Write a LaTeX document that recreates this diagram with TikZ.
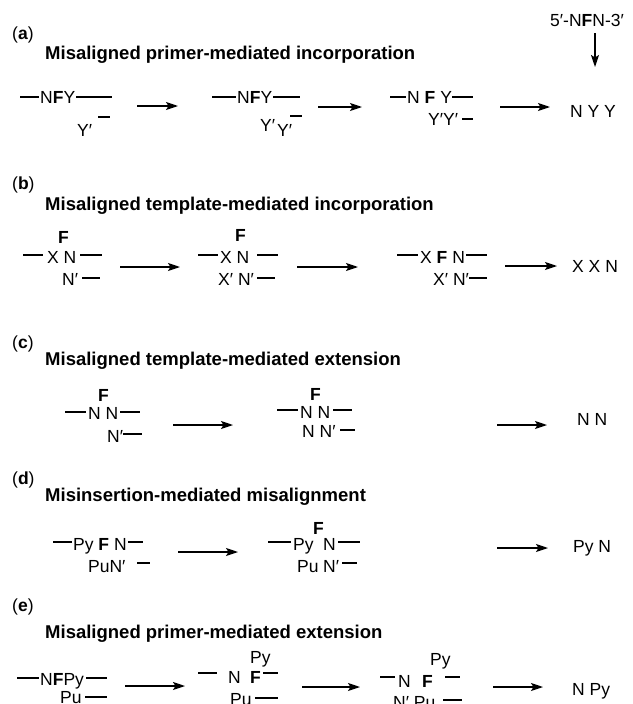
\documentclass[tikz,border=0pt]{standalone}
\usepackage{fontspec}
\setmainfont{Liberation Sans}
\usetikzlibrary{arrows.meta}
\newcommand{\seqfont}{\fontsize{17.5}{21}\selectfont}
\newcommand{\hdrfont}{\fontsize{18.5}{22}\selectfont\bfseries}
\begin{document}
\begin{tikzpicture}[x=1pt,y=-1pt,
  seq/.style={anchor=base west,inner sep=0pt,font=\seqfont},
  hdr/.style={anchor=base west,inner sep=0pt,font=\hdrfont},
  lbl/.style={anchor=base west,inner sep=0pt,font=\seqfont},
  strand/.style={line width=1.3pt},
  arr/.style={line width=1.3pt,-{Stealth[length=12pt,width=8pt,inset=2.5pt]}}]
\clip (0,0) rectangle (632,704);
% ---------------- (a)
\node[lbl] (la) at (12,39.5) {(\textbf{a})};
\node[hdr] (ha) at (45,59) {Misaligned primer-mediated incorporation};
\draw[strand] (20,97) -- (38.5,97);
\node[seq] (a1t) at (40,103.5) {N\textbf{F}Y};
\draw[strand] (76,97) -- (112,97);
\node[seq] (a1b) at (77,136.5) {Y′};
\draw[strand] (98,117) -- (110,117);
\coordinate (a1e) at (137,106); \coordinate (a2s) at (178,106);
\draw[arr] (a1e) -- (a2s);
\draw[strand] (212,97) -- (235.5,97);
\node[seq] (a2t) at (237,103.5) {N\textbf{F}Y};
\draw[strand] (273,97) -- (300,97);
\node[seq] (a2b1) at (260,131) {Y′};
\node[seq] (a2b2) at (277,136.5) {Y′};
\draw[strand] (290,116) -- (302,116);
\coordinate (a2e) at (318,107); \coordinate (a3s) at (362,107);
\draw[arr] (a2e) -- (a3s);
\draw[strand] (390,97) -- (405.5,97);
\node[seq] (a3t) at (407,103.5) {N \textbf{F} Y};
\draw[strand] (452,97) -- (473,97);
\node[seq] (a3b) at (428,125.5) {Y′Y′};
\draw[strand] (462,119) -- (473,119);
\coordinate (a3e) at (500,107); \coordinate (a4s) at (550,107);
\draw[arr] (a3e) -- (a4s);
\node[seq] (a4) at (570,117) {N Y Y};
\node[seq] (src) at (550,27) {5′-N\textbf{F}N-3′};
\coordinate (srcb) at (595,33); \coordinate (srce) at (595,67);
\draw[arr] (srcb) -- (srce);
% ---------------- (b)
\node[lbl] (lb) at (12,189.5) {(\textbf{b})};
\node[hdr] (hb) at (45,210) {Misaligned template-mediated incorporation};
\node[seq] (b1f) at (58,243) {\textbf{F}};
\draw[strand] (23,255) -- (43,255);
\node[seq] (b1t) at (47,263) {X N};
\draw[strand] (80,255) -- (102,255);
\node[seq] (b1b) at (62,285) {N′};
\draw[strand] (82,278) -- (100,278);
\coordinate (b1e) at (120,267); \coordinate (b2s) at (180,267);
\draw[arr] (b1e) -- (b2s);
\node[seq] (b2f) at (235,241) {\textbf{F}};
\draw[strand] (198,255) -- (218,255);
\node[seq] (b2t) at (220,263) {X N};
\draw[strand] (257,255) -- (278,255);
\node[seq] (b2b) at (218,285) {X′ N′};
\draw[strand] (257,278) -- (275,278);
\coordinate (b2e) at (297,267); \coordinate (b3s) at (358,267);
\draw[arr] (b2e) -- (b3s);
\draw[strand] (397,255) -- (418,255);
\node[seq] (b3t) at (420,263) {X \textbf{F} N};
\draw[strand] (466,255) -- (487,255);
\node[seq] (b3b) at (433,285) {X′ N′};
\draw[strand] (469,278) -- (487,278);
\coordinate (b3e) at (505,266); \coordinate (b4s) at (557,266);
\draw[arr] (b3e) -- (b4s);
\node[seq] (b4) at (572,272) {X X N};
% ---------------- (c)
\node[lbl] (lc) at (12,348.5) {(\textbf{c})};
\node[hdr] (hc) at (45,365) {Misaligned template-mediated extension};
\node[seq] (c1f) at (98,401) {\textbf{F}};
\draw[strand] (65,412) -- (86,412);
\node[seq] (c1t) at (88,419) {N N};
\draw[strand] (120,412) -- (140,412);
\node[seq] (c1b) at (107,442) {N′};
\draw[strand] (123,434) -- (142,434);
\coordinate (c1e) at (173,425); \coordinate (c2s) at (233,425);
\draw[arr] (c1e) -- (c2s);
\node[seq] (c2f) at (310,400) {\textbf{F}};
\draw[strand] (277,410) -- (298,410);
\node[seq] (c2t) at (300,418) {N N};
\draw[strand] (333,410) -- (352,410);
\node[seq] (c2b) at (302,437) {N N′};
\draw[strand] (340,430) -- (355,430);
\coordinate (c2e) at (497,425); \coordinate (c3s) at (547,425);
\draw[arr] (c2e) -- (c3s);
\node[seq] (c3) at (577,425) {N N};
% ---------------- (d)
\node[lbl] (ld) at (12,484.5) {(\textbf{d})};
\node[hdr] (hd) at (45,501.5) {Misinsertion-mediated misalignment};
\draw[strand] (53,542) -- (72,542);
\node[seq] (d1t) at (73,550) {Py \textbf{F} N};
\draw[strand] (128,542) -- (143,542);
\node[seq] (d1b) at (88,572) {PuN′};
\draw[strand] (137,563) -- (150,563);
\coordinate (d1e) at (178,552); \coordinate (d2s) at (238,552);
\draw[arr] (d1e) -- (d2s);
\node[seq] (d2f) at (313,534) {\textbf{F}};
\draw[strand] (268,542) -- (291,542);
\node[seq] (d2t1) at (293,550) {Py};
\node[seq] (d2t2) at (323,550) {N};
\draw[strand] (338,542) -- (360,542);
\node[seq] (d2b1) at (297,572) {Pu};
\node[seq] (d2b2) at (323,572) {N′};
\draw[strand] (342,563) -- (357,563);
\coordinate (d2e) at (497,548); \coordinate (d3s) at (548,548);
\draw[arr] (d2e) -- (d3s);
\node[seq] (d3) at (573,552) {Py N};
% ---------------- (e)
\node[lbl] (le) at (12,611) {(\textbf{e})};
\node[hdr] (he) at (45,638) {Misaligned primer-mediated extension};
\draw[strand] (17,678) -- (38.5,678);
\node[seq] (e1t) at (40,685) {N\textbf{F}Py};
\draw[strand] (86,678) -- (107,678);
\node[seq] (e1b) at (60,703) {Pu};
\draw[strand] (85,697) -- (107,697);
\coordinate (e1e) at (125,686); \coordinate (e2s) at (185,686);
\draw[arr] (e1e) -- (e2s);
\node[seq] (e2p) at (250,663) {Py};
\draw[strand] (198,673) -- (217,673);
\node[seq] (e2n) at (228,683) {N};
\node[seq] (e2f) at (250,683) {\textbf{F}};
\draw[strand] (263,673) -- (278,673);
\node[seq] (e2b) at (230,705) {Pu};
\draw[strand] (255,698) -- (278,698);
\coordinate (e2e) at (302,687); \coordinate (e3s) at (360,687);
\draw[arr] (e2e) -- (e3s);
\node[seq] (e3p) at (430,665) {Py};
\draw[strand] (380,677) -- (395,677);
\node[seq] (e3n) at (398,687) {N};
\node[seq] (e3f) at (422,687) {\textbf{F}};
\draw[strand] (445,677) -- (460,677);
\node[seq] (e3b) at (393,708) {N′ Pu};
\draw[strand] (443,700) -- (462,700);
\coordinate (e3e) at (493,687); \coordinate (e4s) at (543,687);
\draw[arr] (e3e) -- (e4s);
\node[seq] (e4) at (572,695) {N Py};
\end{tikzpicture}
\end{document}
